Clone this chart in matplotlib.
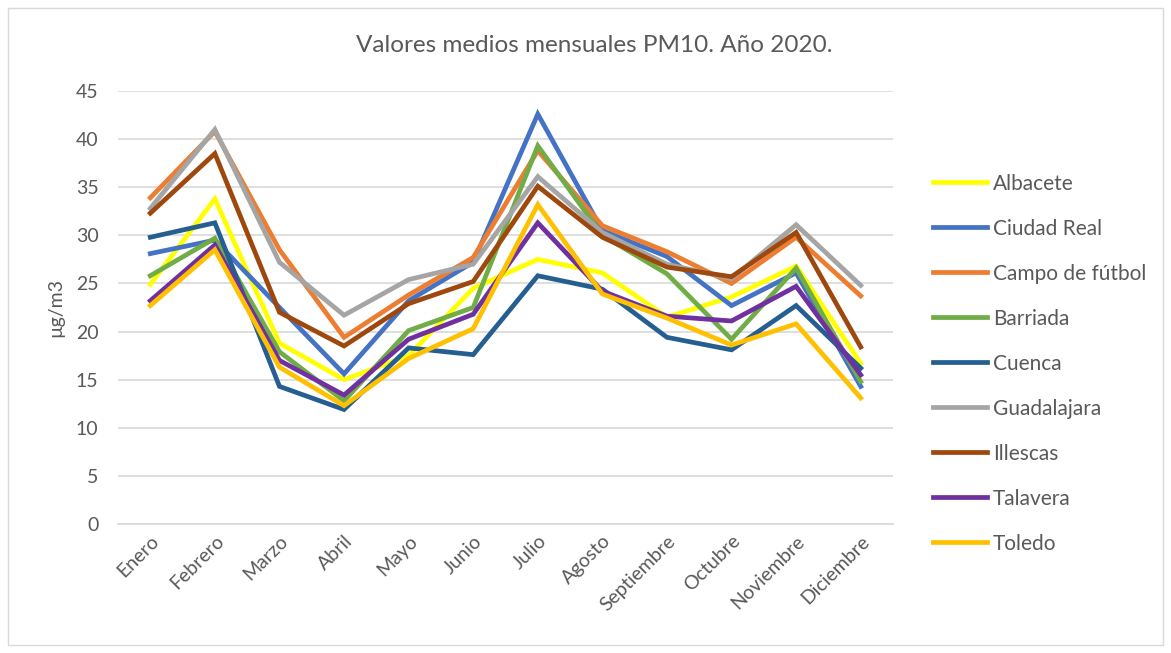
import matplotlib.pyplot as plt
from matplotlib.patches import Rectangle

months = ["Enero", "Febrero", "Marzo", "Abril", "Mayo", "Junio", "Julio",
          "Agosto", "Septiembre", "Octubre", "Noviembre", "Diciembre"]

albacete = [24.9, 33.8, 18.8, 15.0, 17.5, 24.5, 27.5, 26.1, 21.5, 23.6, 26.8, 16.7]
ciudad_real = [28.1, 29.5, 22.5, 15.6, 23.2, 27.2, 42.6, 30.5, 27.8, 22.7, 26.1, 14.3]
campo_futbol = [33.9, 40.8, 28.5, 19.4, 23.8, 27.7, 38.8, 31.0, 28.3, 25.0, 29.8, 23.7]
barriada = [25.8, 29.7, 17.9, 12.8, 20.1, 22.5, 39.3, 30.0, 26.0, 19.2, 26.6, 14.8]
cuenca = [29.8, 31.3, 14.3, 11.9, 18.3, 17.6, 25.8, 24.4, 19.4, 18.1, 22.7, 16.2]
guadalajara = [32.8, 41.0, 27.2, 21.7, 25.4, 27.0, 36.1, 30.3, 27.0, 25.5, 31.1, 24.8]
illescas = [32.3, 38.5, 22.0, 18.5, 22.9, 25.2, 35.1, 29.8, 26.7, 25.7, 30.3, 18.4]
talavera = [23.2, 29.0, 17.0, 13.4, 19.2, 21.8, 31.3, 24.2, 21.6, 21.1, 24.7, 15.5]
toledo = [22.7, 28.5, 16.3, 12.3, 17.2, 20.3, 33.2, 23.9, 21.4, 18.6, 20.8, 13.1]

series = [
    ("Albacete", albacete, "#FFFF00"),
    ("Ciudad Real", ciudad_real, "#4472C4"),
    ("Campo de fútbol", campo_futbol, "#ED7D31"),
    ("Barriada", barriada, "#70AD47"),
    ("Cuenca", cuenca, "#255E91"),
    ("Guadalajara", guadalajara, "#A5A5A5"),
    ("Illescas", illescas, "#9E480E"),
    ("Talavera", talavera, "#7030A0"),
    ("Toledo", toledo, "#FFC000"),
]

plt.rcParams['font.family'] = ['Lato', 'DejaVu Sans']
txt = "#595959"

fig = plt.figure(figsize=(11.71, 6.53), dpi=100)
ax = fig.add_axes([118 / 1171, 129 / 653, 775 / 1171, 433 / 653])

x = list(range(len(months)))
for name, vals, col in series:
    ax.plot(x, vals, color=col, lw=3.4, label=name, solid_joinstyle="miter")

ax.set_xlim(-0.5, len(months) - 0.5)
ax.set_ylim(0, 45)
ax.set_yticks(range(0, 46, 5))
ax.set_xticks(x)
ax.set_xticklabels(months, rotation=45, ha="right", rotation_mode="anchor")
ax.grid(axis="y", color="#D9D9D9", lw=1.2)
ax.set_axisbelow(True)
for s in ["top", "right", "left"]:
    ax.spines[s].set_visible(False)
ax.spines["bottom"].set_color("#D9D9D9")
ax.spines["bottom"].set_linewidth(1.2)
ax.tick_params(axis="both", length=0, labelsize=14, colors=txt, pad=14)
ax.tick_params(axis="x", pad=6)
ax.set_ylabel("µg/m3", fontsize=14, color=txt, labelpad=8)

fig.text(594 / 1171, 1 - 45 / 653, "Valores medios mensuales PM10. Año 2020.",
         ha="center", va="center", fontsize=17.5, color=txt)

leg = fig.legend(loc="upper left", bbox_to_anchor=(914 / 1171, 1 - 155 / 653),
                 frameon=False, fontsize=15, handlelength=2.6,
                 labelspacing=1.2, handletextpad=0.3)
for t in leg.get_texts():
    t.set_color(txt)

fig.patches.append(Rectangle((8 / 1171, 8 / 653), 1155 / 1171, 637 / 653,
                             transform=fig.transFigure, fill=False,
                             edgecolor="#D9D9D9", lw=1))

fig.savefig("out.png", dpi=100)
